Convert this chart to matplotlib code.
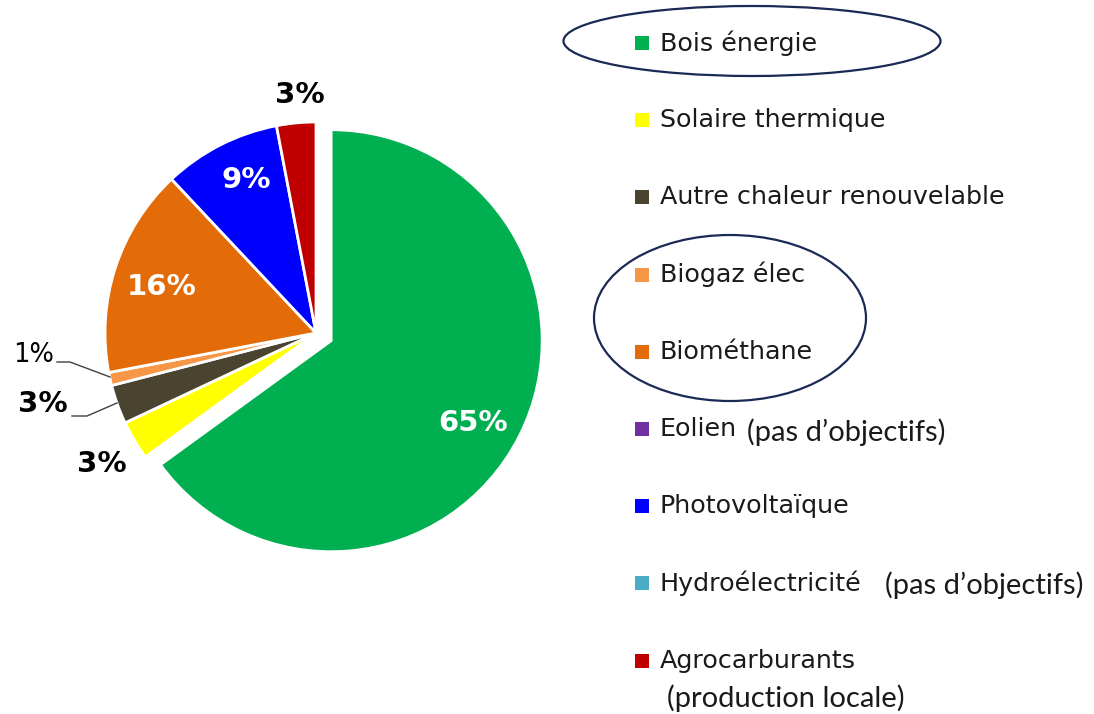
import numpy as np
import matplotlib.pyplot as plt
from matplotlib.patches import Ellipse, Rectangle

# Répartition des énergies renouvelables (objectifs, %)
categories = ["Bois énergie", "Solaire thermique", "Autre chaleur renouvelable",
              "Biogaz élec", "Biométhane", "Eolien", "Photovoltaïque",
              "Hydroélectricité", "Agrocarburants"]
valeurs = [65, 3, 3, 1, 16, 0, 9, 0, 3]
couleurs = ["#00B050", "#FFFF00", "#4A4330", "#F79646", "#E36C09",
            "#7030A0", "#0000FF", "#4BACC6", "#C00000"]
notes = {"Eolien": "(pas d’objectifs)", "Hydroélectricité": "(pas d’objectifs)",
         "Agrocarburants": "(production locale)"}

W, H = 1094, 714
fig = plt.figure(figsize=(W / 100, H / 100), dpi=100)
ax = fig.add_axes([0, 0, 1, 1])

# on ne dessine que les parts non nulles
idx = [i for i, v in enumerate(valeurs) if v > 0]
vals = [valeurs[i] for i in idx]
cols = [couleurs[i] for i in idx]
explode = [17 if i == 0 else 0 for i in idx]  # décalage en pixels

cx, cy, r = 316, H - 333, 211
ax.pie(vals, colors=cols, explode=explode, startangle=90, counterclock=False,
       center=(cx, cy), radius=r,
       wedgeprops=dict(edgecolor="white", linewidth=2))

ax.set_xlim(0, W)
ax.set_ylim(0, H)
ax.set_aspect("equal")
ax.axis("off")

# étiquettes (positions en pixels, y depuis le haut)
pos_lab = {0: (473, 423, "white", 21, "bold"), 1: (102, 464, "black", 21, "bold"),
           2: (43, 404, "black", 21, "bold"), 3: (34, 355, "black", 18.5, "normal"),
           4: (162, 287, "white", 21, "bold"), 6: (246, 180, "white", 21, "bold"),
           8: (300, 95, "black", 21, "bold")}
for i, (x, y, c, fs, fw) in pos_lab.items():
    ax.text(x, H - y, f"{valeurs[i]:.0f}%", color=c, fontsize=fs,
            fontweight=fw, ha="center", va="center", family="DejaVu Sans")

# traits de rappel pour les petites parts
for xs, ys in [([57, 70, 110], [362, 362, 377]), ([72, 87, 117], [416, 416, 403])]:
    ax.plot(xs, [H - y for y in ys], color="#404040", lw=1)

# légende
y0, pas = 43, 77.2
for k, (cat, col) in enumerate(zip(categories, couleurs)):
    y = H - (y0 + k * pas)
    ax.add_patch(Rectangle((635, y - 7), 14, 14, facecolor=col, edgecolor="none"))
    ax.text(660, y, cat, fontsize=18.3, va="center", ha="left",
            family="DejaVu Sans", color="#1a1a1a")
    if cat in notes:
        if cat == "Agrocarburants":
            xn, yn = 667, y - 38
        elif cat == "Eolien":
            xn, yn = 747, y - 3
        else:
            xn, yn = 885, y - 2
        ax.text(xn, yn, notes[cat], fontsize=21, va="center",
                ha="left", family="Lato", color="#1a1a1a")

# cercles de mise en avant
ax.add_patch(Ellipse((752, H - 41), 377, 70, fill=False,
                     edgecolor="#1B2A55", lw=1.6))
ax.add_patch(Ellipse((730, H - 318), 272, 166, fill=False,
                     edgecolor="#1B2A55", lw=1.6))

fig.savefig("out.png", dpi=100)
